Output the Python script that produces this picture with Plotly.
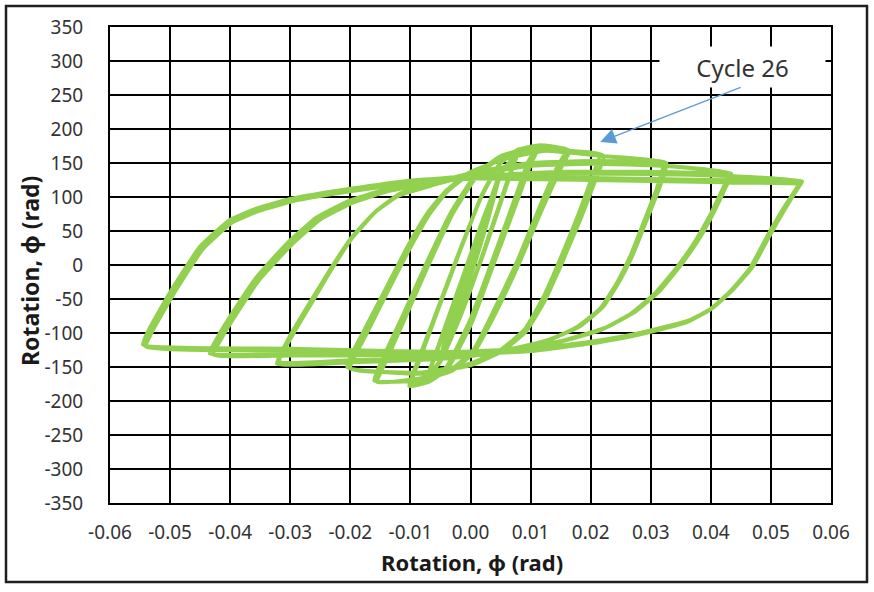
import plotly.graph_objects as go

# ---- data (rotation, moment) per cycle ----
A1_x = [0.0045, 0.0030, 0.0005, -0.0025, -0.0045, -0.0030, -0.0005, 0.0020, 0.0045]
A1_y = [125, 70, 0, -70, -125, -75, -10, 60, 125]
A2_x = [0.0050, 0.0033, 0.0008, -0.0025, -0.0050, -0.0034, -0.0008, 0.0025, 0.0050]
A2_y = [135, 80, 5, -80, -135, -85, -15, 70, 135]

B1_x = [0.0075, 0.0060, 0.0020, -0.0020, -0.0050, -0.0070, -0.0055, -0.0015, 0.0025, 0.0055, 0.0075]
B1_y = [160, 120, 15, -80, -140, -162, -125, -25, 75, 140, 160]
B2_x = [0.0078, 0.0062, 0.0022, -0.0018, -0.0050, -0.0072, -0.0057, -0.0017, 0.0023, 0.0056, 0.0078]
B2_y = [163, 122, 18, -78, -142, -165, -128, -28, 72, 142, 163]

C1_x = [0.0110, 0.0095, 0.0075, 0.0040, 0.0000, -0.0040, -0.0070, -0.0100, -0.0085, -0.0060, -0.0020, 0.0020, 0.0050, 0.0080, 0.0110]
C1_y = [174, 150, 100, 15, -80, -150, -170, -176, -140, -80, 15, 105, 150, 170, 174]
C2_x = [0.0115, 0.0100, 0.0078, 0.0042, 0.0002, -0.0038, -0.0070, -0.0102, -0.0088, -0.0062, -0.0022, 0.0018, 0.0048, 0.0082, 0.0115]
C2_y = [176, 148, 95, 10, -85, -152, -172, -178, -142, -82, 12, 100, 148, 170, 176]

D1_x = [0.0160, 0.0145, 0.0115, 0.0080, 0.0040, 0.0005, -0.0030, -0.0080, -0.0155, -0.0140, -0.0110, -0.0070, -0.0030, 0.0010, 0.0050, 0.0100, 0.0160]
D1_y = [170, 145, 85, 10, -65, -125, -152, -166, -172, -140, -80, 0, 75, 130, 158, 174, 170]
D2_x = [0.0165, 0.0150, 0.0118, 0.0082, 0.0042, 0.0006, -0.0030, -0.0085, -0.0160, -0.0145, -0.0113, -0.0072, -0.0032, 0.0008, 0.0050, 0.0105, 0.0165]
D2_y = [168, 142, 80, 5, -70, -128, -155, -170, -170, -136, -75, 5, 78, 132, 160, 173, 168]

E1_x = [0.0215, 0.0205, 0.0180, 0.0150, 0.0120, 0.0090, 0.0050, 0.0000, -0.0080, -0.0200, -0.0173, -0.0134, -0.0100, -0.0068, -0.0040, 0.0000, 0.0060, 0.0120, 0.0215]
E1_y = [163, 135, 75, 10, -50, -95, -125, -145, -158, -152, -101, -32, 26, 75, 107, 135, 158, 170, 163]
E2_x = [0.0222, 0.0210, 0.0184, 0.0153, 0.0122, 0.0092, 0.0052, 0.0002, -0.0080, -0.0205, -0.0178, -0.0138, -0.0104, -0.0071, -0.0042, -0.0002, 0.0060, 0.0125, 0.0222]
E2_y = [160, 130, 70, 5, -55, -98, -127, -147, -160, -150, -98, -30, 28, 77, 108, 136, 157, 168, 160]

F1_x = [0.0326, 0.0315, 0.0293, 0.0271, 0.0249, 0.0221, 0.0182, 0.0130, 0.0060, -0.0050, -0.0200, -0.0318, -0.0295, -0.0262, -0.0229, -0.0196, -0.0156, -0.0117, -0.0062, 0.0000, 0.0100, 0.0200, 0.0326]
F1_y = [150, 115, 66, 17, -22, -61, -90, -110, -125, -135, -140, -142, -101, -52, -3, 41, 80, 105, 120, 135, 150, 153, 150]
F2_x = [0.0322, 0.0310, 0.0288, 0.0266, 0.0244, 0.0216, 0.0176, 0.0124, 0.0055, -0.0050, -0.0200, -0.0322, -0.0300, -0.0267, -0.0233, -0.0200, -0.0160, -0.0120, -0.0065, 0.0000, 0.0100, 0.0200, 0.0322]
F2_y = [146, 112, 62, 13, -26, -64, -92, -113, -128, -138, -143, -145, -104, -55, -6, 38, 77, 102, 117, 132, 146, 149, 146]

G1_x = [0.0434, 0.0425, 0.0405, 0.0380, 0.0350, 0.0315, 0.0275, 0.0225, 0.0150, 0.0050, -0.0100, -0.0300, -0.0434, -0.0420, -0.0400, -0.0356, -0.0306, -0.0256, -0.0200, -0.0145, -0.0070, 0.0000, 0.0150, 0.0300, 0.0434]
G1_y = [134, 115, 78, 38, 0, -38, -68, -92, -112, -125, -130, -131, -130, -105, -76, -18, 31, 70, 95, 110, 122, 130, 137, 137, 134]
G2_x = [0.0430, 0.0420, 0.0400, 0.0374, 0.0344, 0.0308, 0.0268, 0.0218, 0.0145, 0.0045, -0.0100, -0.0300, -0.0428, -0.0414, -0.0394, -0.0350, -0.0300, -0.0250, -0.0195, -0.0140, -0.0068, 0.0000, 0.0150, 0.0300, 0.0430]
G2_y = [131, 112, 75, 35, -3, -41, -71, -95, -114, -127, -132, -133, -132, -107, -78, -20, 28, 67, 92, 108, 120, 128, 134, 134, 131]

H1_x = [0.0552, 0.0544, 0.0525, 0.0497, 0.0470, 0.0436, 0.0403, 0.0365, 0.0315, 0.0260, 0.0200, 0.0100, -0.0050, -0.0300, -0.0545, -0.0535, -0.0501, -0.0451, -0.0401, -0.0356, -0.0300, -0.0200, -0.0100, 0.0000, 0.0200, 0.0400, 0.0552]
H1_y = [123, 112, 85, 42, -2, -37, -63, -81, -93, -104, -113, -124, -128, -123, -117, -95, -42, 26, 66, 83, 97, 112, 124, 130, 128, 125, 123]
H2_x = [0.0548, 0.0540, 0.0520, 0.0492, 0.0465, 0.0431, 0.0398, 0.0360, 0.0310, 0.0255, 0.0195, 0.0095, -0.0050, -0.0300, -0.0540, -0.0530, -0.0496, -0.0446, -0.0396, -0.0351, -0.0295, -0.0195, -0.0095, 0.0000, 0.0200, 0.0400, 0.0548]
H2_y = [120, 109, 82, 39, -5, -40, -66, -84, -96, -107, -116, -127, -131, -126, -120, -98, -45, 23, 63, 80, 94, 109, 121, 127, 125, 122, 120]

x_tick_vals = [-0.06, -0.05, -0.04, -0.03, -0.02, -0.01, 0.0, 0.01, 0.02, 0.03, 0.04, 0.05, 0.06]
x_tick_text = ["-0.06", "-0.05", "-0.04", "-0.03", "-0.02", "-0.01", "0.00", "0.01", "0.02", "0.03", "0.04", "0.05", "0.06"]
y_tick_vals = [-350, -300, -250, -200, -150, -100, -50, 0, 50, 100, 150, 200, 250, 300, 350]
y_tick_text = ["-350", "-300", "-250", "-200", "-150", "-100", "-50", "0", "50", "100", "150", "200", "250", "300", "350"]

annot_text = "Cycle 26"
annot_text_pos = (0.0453, 290.5)
annot_arrow_tip = (0.0216, 181)
annot_arrow_tail = (0.0452, 262)

cycles_x = [A1_x, A2_x, B1_x, B2_x, C1_x, C2_x, D1_x, D2_x, E1_x, E2_x, F1_x, F2_x, G1_x, G2_x, H1_x, H2_x]
cycles_y = [A1_y, A2_y, B1_y, B2_y, C1_y, C2_y, D1_y, D2_y, E1_y, E2_y, F1_y, F2_y, G1_y, G2_y, H1_y, H2_y]
all_x, all_y = [], []
for cx, cy in zip(cycles_x, cycles_y):
    all_x += cx
    all_y += cy

FONT = "Noto Sans"
GREEN = "#92D050"

fig = go.Figure()
fig.add_trace(go.Scatter(x=all_x, y=all_y, mode="lines",
                         line=dict(color=GREEN, width=4, shape="spline", smoothing=0.4),
                         hoverinfo="skip", showlegend=False))

axis_common = dict(showgrid=True, gridcolor="black", gridwidth=2,
                   zeroline=False, showline=True, linecolor="black", linewidth=2,
                   mirror=True, ticks="",
                   tickfont=dict(family=FONT, size=19, color="#333333"))

fig.update_xaxes(range=[-0.06, 0.06], tickmode="array", tickvals=x_tick_vals,
                 ticktext=x_tick_text, ticklabelstandoff=11, **axis_common)
fig.update_yaxes(range=[-350, 350], tickmode="array", tickvals=y_tick_vals,
                 ticktext=y_tick_text, ticklabelstandoff=21, **axis_common)

fig.update_layout(
    width=874, height=592,
    margin=dict(l=110, r=43, t=27, b=89),
    paper_bgcolor="white", plot_bgcolor="white",
    shapes=[dict(type="rect", xref="paper", yref="paper",
                 x0=(6 - 110) / 721, x1=(867 - 110) / 721,
                 y0=(503 - 582) / 476, y1=(503 - 6) / 476,
                 line=dict(color="#1f1f1f", width=2.5), layer="below")],
    annotations=[
        dict(text="Rotation, φ (rad)", xref="paper", yref="paper",
             x=(472 - 110) / 721, y=(503 - 562) / 476, xanchor="center", yanchor="middle",
             showarrow=False, font=dict(family=FONT, size=22, color="#1a1a1a", weight="bold")),
        dict(text="Rotation, φ (rad)", xref="paper", yref="paper",
             x=(30 - 110) / 721, y=(503 - 271) / 476, xanchor="center", yanchor="middle",
             textangle=-90, showarrow=False,
             font=dict(family=FONT, size=23, color="#1a1a1a", weight="bold")),
        dict(text=annot_text, x=annot_text_pos[0], y=annot_text_pos[1], xref="x", yref="y",
             showarrow=False, bgcolor="white", width=165, height=40, borderpad=0,
             font=dict(family=FONT, size=24, color="#333333")),
        dict(text="", x=annot_arrow_tip[0], y=annot_arrow_tip[1], xref="x", yref="y",
             ax=annot_arrow_tail[0], ay=annot_arrow_tail[1], axref="x", ayref="y",
             showarrow=True, arrowhead=2, arrowsize=2.4, arrowwidth=1.3,
             arrowcolor="#5B9BD5"),
    ],
)

fig.write_html("out.html", config={"displayModeBar": False},
               post_script="document.body.style.margin='0';")
